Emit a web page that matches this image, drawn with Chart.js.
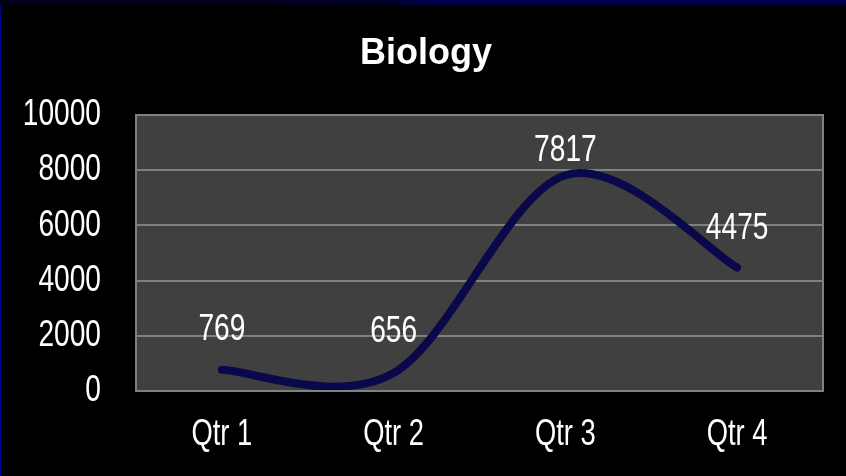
<!DOCTYPE html>
<html>
<head>
<meta charset="utf-8">
<title>Biology</title>
<script src="https://cdn.jsdelivr.net/npm/chart.js@4.4.1/dist/chart.umd.min.js"></script>
<style>
    html, body { margin: 0; padding: 0; background: #000; }
    #wrap { width: 846px; height: 476px; position: relative; }
</style>
</head>
<body>
<div id="wrap"><canvas id="bioChart" width="846" height="476"></canvas></div>
<script>
// Chart data
const chartTitle = 'Biology';
const quarters = ['Qtr 1', 'Qtr 2', 'Qtr 3', 'Qtr 4'];
const biologyValues = [769, 656, 7817, 4475];
const yTicks = [0, 2000, 4000, 6000, 8000, 10000];

const baseFont = "'Liberation Sans', Arial, sans-serif";

// narrow text: Arial squeezed horizontally (no Arial Narrow installed)
function narrowText(ctx, text, x, y, align, size) {
    ctx.save();
    ctx.translate(x, y);
    ctx.scale(0.76, 1);
    ctx.font = size + 'px ' + baseFont;
    ctx.textAlign = align;
    ctx.textBaseline = 'middle';
    ctx.fillStyle = '#fff';
    ctx.fillText(text, 0, 0);
    ctx.restore();
}

// Slide frame, title + grey plot area
const backdrop = {
    id: 'backdrop',
    beforeDraw(chart) {
        const ctx = chart.ctx;
        const area = chart.chartArea;
        ctx.save();
        ctx.fillStyle = '#000';
        ctx.fillRect(0, 0, chart.width, chart.height);
        const grad = ctx.createLinearGradient(0, 0, chart.width, 0);
        grad.addColorStop(0, '#000018');
        grad.addColorStop(0.45, '#000020');
        grad.addColorStop(0.5, '#00004a');
        grad.addColorStop(1, '#00004a');
        ctx.fillStyle = grad;
        ctx.fillRect(0, 0, chart.width, 5);
        ctx.fillStyle = '#00008a';
        ctx.fillRect(0, 5, 1, chart.height - 5);
        ctx.fillStyle = '#404040';
        ctx.fillRect(area.left, area.top, area.right - area.left, area.bottom - area.top);

        ctx.fillStyle = '#fff';
        ctx.font = 'bold 36px ' + baseFont;
        ctx.textAlign = 'center';
        ctx.textBaseline = 'alphabetic';
        ctx.fillText(chartTitle, 426, 64);
        ctx.restore();
    },
    afterDatasetsDraw(chart) {
        const ctx = chart.ctx;
        const area = chart.chartArea;
        ctx.save();
        ctx.strokeStyle = '#808080';
        ctx.lineWidth = 2;
        ctx.strokeRect(area.left, area.top, area.right - area.left, area.bottom - area.top);
        ctx.restore();
    }
};

// Excel-like smoothing: uniform Catmull-Rom control points
const smoothLine = {
    id: 'smoothLine',
    beforeDatasetsDraw(chart, args, opts) {
        const meta = chart.getDatasetMeta(0);
        meta.dataset.updateControlPoints(chart.chartArea);
        const pts = meta.data;
        const k = opts.factor;
        pts.forEach(function(p, i) {
            const prev = pts[i - 1] || p;
            const next = pts[i + 1] || p;
            const dx = (next.x - prev.x) * k;
            const dy = (next.y - prev.y) * k;
            p.cp1x = p.x - dx;
            p.cp1y = p.y - dy;
            p.cp2x = p.x + dx;
            p.cp2y = p.y + dy;
        });
    }
};

// Axis labels drawn from the scales
const axisLabels = {
    id: 'axisLabels',
    afterDraw(chart) {
        const ctx = chart.ctx;
        const xs = chart.scales.x;
        const ys = chart.scales.y;
        ys.ticks.forEach(function(t) {
            narrowText(ctx, String(t.value), 101, ys.getPixelForValue(t.value), 'right', 37);
        });
        quarters.forEach(function(q, i) {
            narrowText(ctx, q, xs.getPixelForTick(i), 435, 'center', 36);
        });
    }
};

// Value labels above each point
const valueLabels = {
    id: 'valueLabels',
    afterDatasetsDraw(chart, args, opts) {
        const ctx = chart.ctx;
        const meta = chart.getDatasetMeta(0);
        meta.data.forEach(function(pt, i) {
            narrowText(ctx, String(biologyValues[i]), pt.x, pt.y - opts.offsets[i], 'center', 37);
        });
    }
};

const ctx = document.getElementById('bioChart').getContext('2d');
new Chart(ctx, {
    type: 'line',
    data: {
        labels: quarters,
        datasets: [{
            label: 'Biology',
            data: biologyValues,
            borderColor: '#08084a',
            borderWidth: 8,
            borderCapStyle: 'round',
            tension: 0.4,
            pointRadius: 0,
            fill: false
        }]
    },
    options: {
        responsive: false,
        animation: false,
        layout: { padding: { left: 0, right: 23, top: 115, bottom: 0 } },
        plugins: {
            legend: { display: false },
            tooltip: { enabled: false },
            title: { display: false },
            smoothLine: { factor: 1 / 6 },
            valueLabels: { offsets: [40, 41, 24, 39] }
        },
        scales: {
            x: {
                offset: true,
                grid: { display: false, drawTicks: false },
                border: { display: false },
                ticks: { display: false },
                afterFit(axis) { axis.height = 85; }
            },
            y: {
                min: 0,
                max: 10000,
                afterBuildTicks(axis) {
                    axis.ticks = yTicks.map(v => ({ value: v }));
                },
                grid: { color: '#808080', lineWidth: 2, drawTicks: false },
                border: { display: false },
                ticks: { display: false },
                afterFit(axis) { axis.width = 136; }
            }
        }
    },
    plugins: [backdrop, smoothLine, valueLabels, axisLabels]
});
</script>
</body>
</html>
